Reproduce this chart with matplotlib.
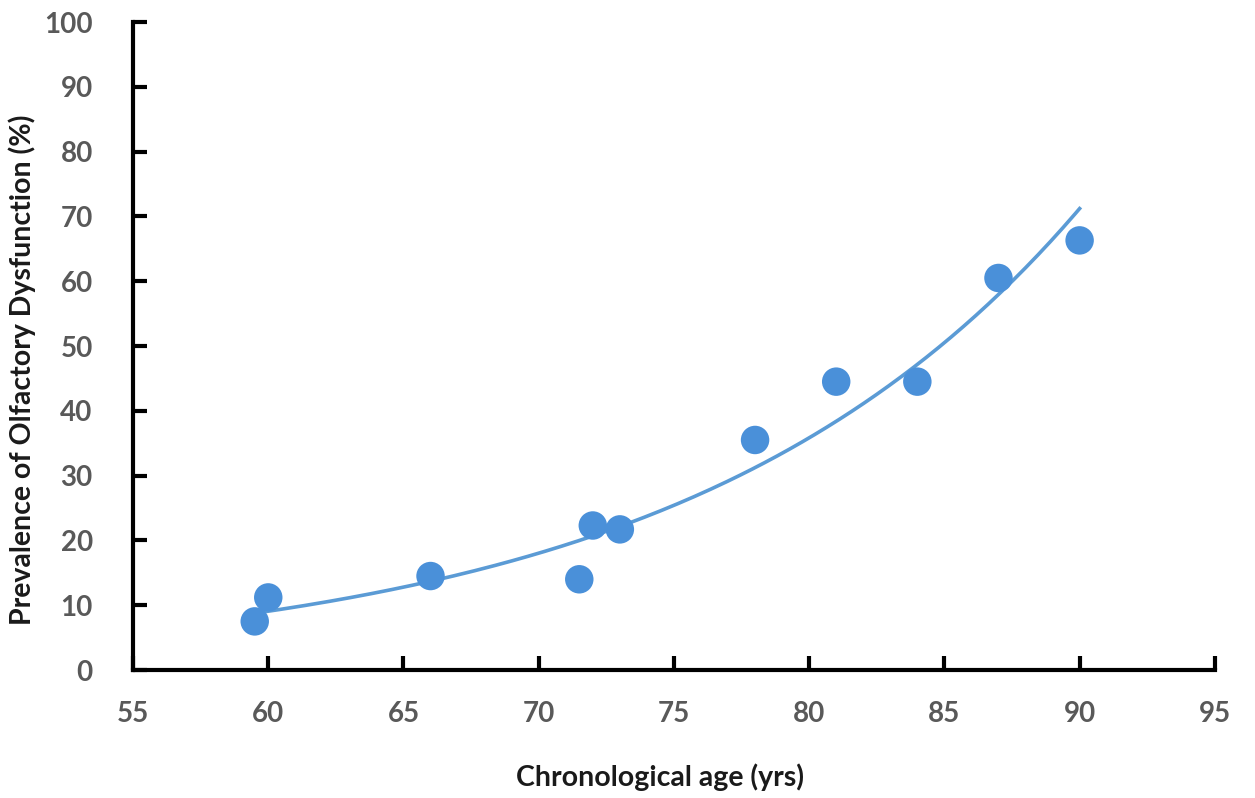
import numpy as np
import matplotlib
matplotlib.use("Agg")
import matplotlib.pyplot as plt

age = [59.5, 60, 66, 71.5, 72, 73, 78, 81, 84, 87, 90]
prevalence = [7.5, 11.2, 14.5, 14.0, 22.3, 21.7, 35.5, 44.5, 44.5, 60.5, 66.3]
x_ticks = [55, 60, 65, 70, 75, 80, 85, 90, 95]
y_ticks = [0, 10, 20, 30, 40, 50, 60, 70, 80, 90, 100]

plt.rcParams['font.family'] = ['Lato', 'DejaVu Sans']

W, H = 1255, 798
fig = plt.figure(figsize=(W / 100, H / 100), dpi=100)
ax = fig.add_axes([0.106, 0.1604, 0.862, 0.812])

xa = np.array(age)
ya = np.array(prevalence)
b, lna = np.polyfit(xa, np.log(ya), 1)
xf = np.linspace(xa.min(), xa.max(), 200)
yf = np.exp(lna) * np.exp(b * xf)

color = '#4A90D9'
ax.plot(xf, yf, color='#5B9BD5', lw=2.6, zorder=2)
ax.scatter(xa, ya, s=420, color=color, edgecolors='none', zorder=3)

ax.set_xlim(55, 95)
ax.set_ylim(0, 100)
ax.set_xticks(x_ticks)
ax.set_yticks(y_ticks)
for s in ['top', 'right']:
    ax.spines[s].set_visible(False)
for s in ['left', 'bottom']:
    ax.spines[s].set_linewidth(3)
    ax.spines[s].set_color('black')
ax.tick_params(direction='in', length=10, width=3, colors='black',
               labelcolor='#595959', labelsize=20)
ax.tick_params(axis='x', pad=22)
ax.tick_params(axis='y', pad=29)
for lbl in ax.get_xticklabels() + ax.get_yticklabels():
    lbl.set_fontweight('bold')

fig.text(660 / W, 1 - 786 / H, 'Chronological age (yrs)', fontsize=20.5,
         fontweight='bold', color='#1a1a1a', ha='center', va='baseline')
fig.text(22 / W, 1 - 370 / H, 'Prevalence of Olfactory Dysfunction (%)',
         fontsize=20.5, fontweight='bold', color='#1a1a1a', rotation=90,
         ha='center', va='center')

fig.savefig('out.png', dpi=100, facecolor='white')
